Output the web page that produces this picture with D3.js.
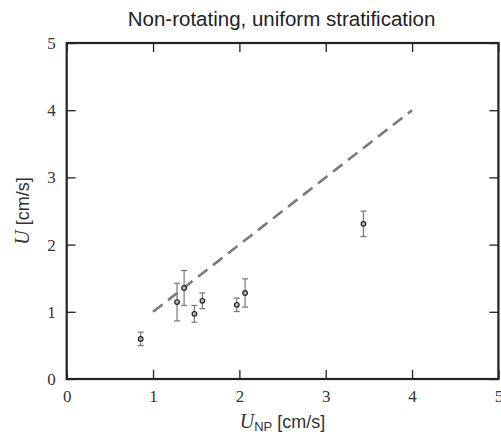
<!DOCTYPE html>
<html>
<head>
<meta charset="utf-8">
<script src="https://cdn.jsdelivr.net/npm/d3@7"></script>
<style>
  html, body { margin: 0; padding: 0; background: #fff; }
  svg { display: block; }
</style>
</head>
<body>
<script>
// Measured speeds and their uncertainties
const uNP   = [0.857, 1.278, 1.36, 1.479, 1.571, 1.97, 2.066, 3.437];
const uObs  = [0.597, 1.145, 1.354, 0.97, 1.164, 1.104, 1.28, 2.309];
const uErr  = [0.10, 0.28, 0.26, 0.125, 0.117, 0.10, 0.21, 0.19];
// Reference line U = U_NP
const refX = [1, 4];
const refY = [1, 4];
const xTicks = [0, 1, 2, 3, 4, 5];
const yTicks = [0, 1, 2, 3, 4, 5];

const W = 501, H = 437;
const margin = { left: 66.7, right: 2.6, top: 43, bottom: 58 };

const svg = d3.select("body").append("svg").attr("width", W).attr("height", H);

const x = d3.scaleLinear().domain([0, 5]).range([margin.left, W - margin.right]);
const y = d3.scaleLinear().domain([0, 5]).range([H - margin.bottom, margin.top]);

const tickLen = 9;
const axisColor = "#222";
const serif = "Liberation Serif, DejaVu Serif, serif";
const sans = "Liberation Sans, Arial, sans-serif";

// Bottom axis with inward ticks
const gx = svg.append("g").attr("transform", `translate(0,${y(0)})`)
  .call(d3.axisBottom(x).tickValues(xTicks).tickFormat(d3.format("d")).tickSizeInner(-tickLen).tickSizeOuter(0).tickPadding(11));
// Top axis ticks (no labels)
const gxt = svg.append("g").attr("transform", `translate(0,${y(5)})`)
  .call(d3.axisTop(x).tickValues(xTicks).tickFormat("").tickSizeInner(-tickLen).tickSizeOuter(0));
// Left axis
const gy = svg.append("g").attr("transform", `translate(${x(0)},0)`)
  .call(d3.axisLeft(y).tickValues(yTicks).tickFormat(d3.format("d")).tickSizeInner(-tickLen).tickSizeOuter(0).tickPadding(11));
// Right axis ticks
const gyr = svg.append("g").attr("transform", `translate(${x(5)},0)`)
  .call(d3.axisRight(y).tickValues(yTicks).tickFormat("").tickSizeInner(-tickLen).tickSizeOuter(0));

[gx, gxt, gy, gyr].forEach(g => {
  g.select(".domain").remove();
  g.selectAll(".tick line").attr("stroke", axisColor).attr("stroke-width", 1.3);
  g.selectAll(".tick text")
    .attr("font-family", serif).attr("font-size", 17).attr("fill", "#333");
});

// Frame
svg.append("rect")
  .attr("x", x(0)).attr("y", y(5))
  .attr("width", x(5) - x(0)).attr("height", y(0) - y(5))
  .attr("fill", "none").attr("stroke", axisColor).attr("stroke-width", 2.2);

// Dashed reference line
svg.append("line")
  .attr("x1", x(refX[0])).attr("y1", y(refY[0]))
  .attr("x2", x(refX[1])).attr("y2", y(refY[1]))
  .attr("stroke", "#7a7a7a").attr("stroke-width", 2.6)
  .attr("stroke-dasharray", "12,7");

// Error bars
const errColor = "#777";
const pts = uNP.map((v, i) => ({ x: v, y: uObs[i], e: uErr[i] }));
const eb = svg.append("g").selectAll("g").data(pts).join("g");
eb.append("line")
  .attr("x1", d => x(d.x)).attr("x2", d => x(d.x))
  .attr("y1", d => y(d.y - d.e)).attr("y2", d => y(d.y + d.e))
  .attr("stroke", errColor).attr("stroke-width", 1.2);
[-1, 1].forEach(s => {
  eb.append("line")
    .attr("x1", d => x(d.x) - 3).attr("x2", d => x(d.x) + 3)
    .attr("y1", d => y(d.y + s * d.e)).attr("y2", d => y(d.y + s * d.e))
    .attr("stroke", errColor).attr("stroke-width", 1.2);
});

// Data markers
svg.append("g").selectAll("circle").data(pts).join("circle")
  .attr("cx", d => x(d.x)).attr("cy", d => y(d.y)).attr("r", 2.3)
  .attr("fill", "#bbb").attr("stroke", "#222").attr("stroke-width", 1.2);

// Title
svg.append("text")
  .attr("x", (x(0) + x(5)) / 2 - 1).attr("y", 26)
  .attr("text-anchor", "middle")
  .attr("font-family", sans).attr("font-size", 20.5).attr("fill", "#222")
  .text("Non-rotating, uniform stratification");

// X label
const xl = svg.append("text")
  .attr("x", (x(0) + x(5)) / 2).attr("y", 428)
  .attr("text-anchor", "middle").attr("fill", "#333")
  .attr("font-family", sans).attr("font-size", 18);
xl.append("tspan").attr("font-family", serif).attr("font-style", "italic").attr("font-size", 20).text("U");
xl.append("tspan").attr("font-size", 13).attr("dy", 3).text("NP");
xl.append("tspan").attr("dy", -3).text(" [cm/s]");

// Y label
const yl = svg.append("text")
  .attr("transform", `translate(29,${(y(0) + y(5)) / 2}) rotate(-90)`)
  .attr("text-anchor", "middle").attr("fill", "#333")
  .attr("font-family", sans).attr("font-size", 18);
yl.append("tspan").attr("font-family", serif).attr("font-style", "italic").attr("font-size", 20).text("U");
yl.append("tspan").text(" [cm/s]");
</script>
</body>
</html>
